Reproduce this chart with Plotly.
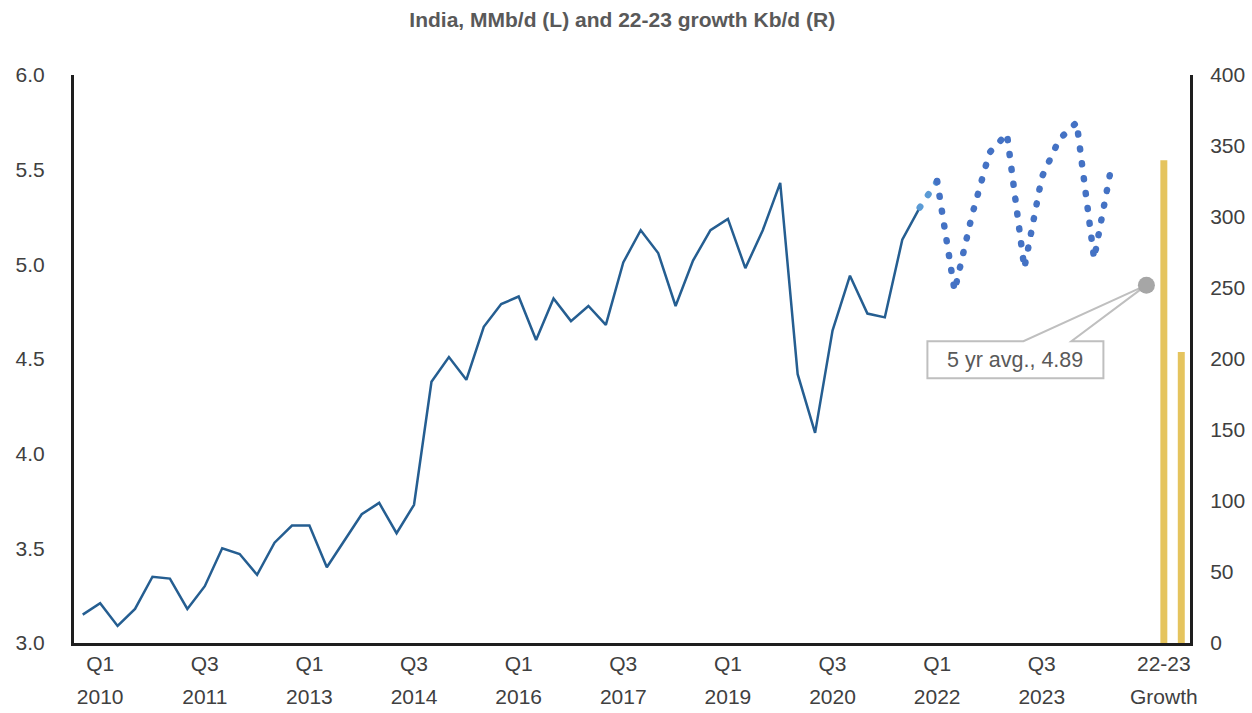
import plotly.graph_objects as go

# quarterly periods, Q4 2009 .. Q3 2024
periods = [f"Q{(i + 3) % 4 + 1} {2009 + (i + 3) // 4}" for i in range(60)]
extra_slots = ["gap", "5 yr avg.", "22-23 Growth", "22-23 Growth b"]
categories = periods + extra_slots

# India demand, MMb/d  (Q4 2009 .. Q4 2021)
actual = [3.15, 3.21, 3.09, 3.18, 3.35, 3.34, 3.18, 3.30, 3.50, 3.47,
          3.36, 3.53, 3.62, 3.62, 3.40, 3.54, 3.68, 3.74, 3.58, 3.73,
          4.38, 4.51, 4.39, 4.67, 4.79, 4.83, 4.60, 4.82, 4.70, 4.78,
          4.68, 5.01, 5.18, 5.06, 4.78, 5.02, 5.18, 5.24, 4.98, 5.18,
          5.43, 4.42, 4.11, 4.65, 4.94, 4.74, 4.72, 5.13, 5.30]
bridge = [5.30, 5.44]                      # Q4 2021 -> Q1 2022
forecast = [5.44, 4.86, 5.26, 5.59, 5.69, 4.98,
            5.46, 5.66, 5.75, 5.03, 5.52]  # Q1 2022 .. Q3 2024

avg_5yr = 4.89
growth_cats = ["22-23 Growth", "22-23 Growth b"]
growth_kbd = [340, 205]

tick_cats = ["Q1 2010", "Q3 2011", "Q1 2013", "Q3 2014", "Q1 2016", "Q3 2017",
             "Q1 2019", "Q3 2020", "Q1 2022", "Q3 2023", "22-23 Growth"]
tick_top = ["Q1", "Q3", "Q1", "Q3", "Q1", "Q3", "Q1", "Q3", "Q1", "Q3", "22-23"]
tick_bottom = ["2010", "2011", "2013", "2014", "2016", "2017",
               "2019", "2020", "2022", "2023", "Growth"]

n_act = len(actual)
x_range = [-0.5, len(categories) - 0.5]

fig = go.Figure()
fig.add_scatter(x=periods[:n_act], y=actual, mode="lines",
                line=dict(color="#255E91", width=2.5))
fig.add_scatter(x=periods[n_act - 1:n_act + 1], y=bridge, mode="lines",
                line=dict(color="#5B9BD5", width=6.5, dash="1px,14px"))
fig.add_scatter(x=periods[n_act:n_act + len(forecast)], y=forecast, mode="lines",
                line=dict(color="#4472C4", width=6.5, dash="1px,14px"))
fig.add_bar(x=growth_cats, y=growth_kbd, yaxis="y2", width=0.4,
            marker=dict(color="#E5C45E", line_width=0))
fig.add_scatter(x=["5 yr avg."], y=[avg_5yr], xaxis="x2", mode="markers",
                marker=dict(color="#A6A6A6", size=17))

# callout for the 5-yr average
i_avg = categories.index("5 yr avg.")
fig.add_shape(type="path", xref="x", yref="y", xsizemode="pixel", ysizemode="pixel",
              xanchor=i_avg, yanchor=avg_5yr, layer="below",
              path="M -219 -56 L -123 -56 L 0 0 L -75 -56 L -43 -56 L -43 -93 L -219 -93 Z",
              line=dict(color="#BFBFBF", width=2), fillcolor="white")
fig.add_annotation(x=i_avg, y=avg_5yr, xref="x", yref="y", showarrow=False,
                   text=f"5 yr avg., {avg_5yr:.2f}", xshift=-131, yshift=-74.5,
                   font=dict(size=21.5, color="#595959"))

axis_line = dict(showline=True, linecolor="#1E1E1E", linewidth=3, ticks="",
                 showgrid=False, zeroline=False, automargin=False)
fig.update_layout(
    width=1252, height=713,
    margin=dict(l=74, r=62, t=75, b=70),
    paper_bgcolor="white", plot_bgcolor="white",
    font=dict(family="Liberation Sans, Arial, sans-serif", size=21, color="#404040"),
    title=dict(text="<b>India, MMb/d (L) and 22-23 growth Kb/d (R)</b>",
               x=0.497, xanchor="center", y=0.973, yanchor="middle",
               font=dict(size=21, color="#595959")),
    xaxis=dict(type="category", categoryorder="array", categoryarray=categories,
               range=x_range, tickvals=tick_cats, ticktext=tick_top,
               ticklabelstandoff=0, **axis_line),
    xaxis2=dict(type="category", categoryorder="array", categoryarray=categories,
                range=x_range, overlaying="x", anchor="y", side="bottom",
                tickvals=tick_cats, ticktext=tick_bottom, ticklabelstandoff=39,
                showline=False, ticks="", showgrid=False, zeroline=False,
                automargin=False),
    yaxis=dict(range=[3, 6], dtick=0.5, tickformat=".1f", ticklabelstandoff=22,
               **axis_line),
    yaxis2=dict(range=[0, 400], dtick=50, overlaying="y", side="right",
                ticklabelstandoff=13, **axis_line),
    showlegend=False,
)

# round dots for the dotted forecast lines, no page margin
post = """
document.body.style.margin = '0';
var gd = document.getElementById('{plot_id}');
function roundDots() {
  gd.querySelectorAll('.scatterlayer path.js-line').forEach(function (p) {
    var d = p.style.strokeDasharray;
    if (d && d !== 'none') { p.style.strokeLinecap = 'round'; }
  });
}
roundDots();
gd.on('plotly_afterplot', roundDots);
"""
fig.write_html("out.html", post_script=post, config={"displayModeBar": False})
